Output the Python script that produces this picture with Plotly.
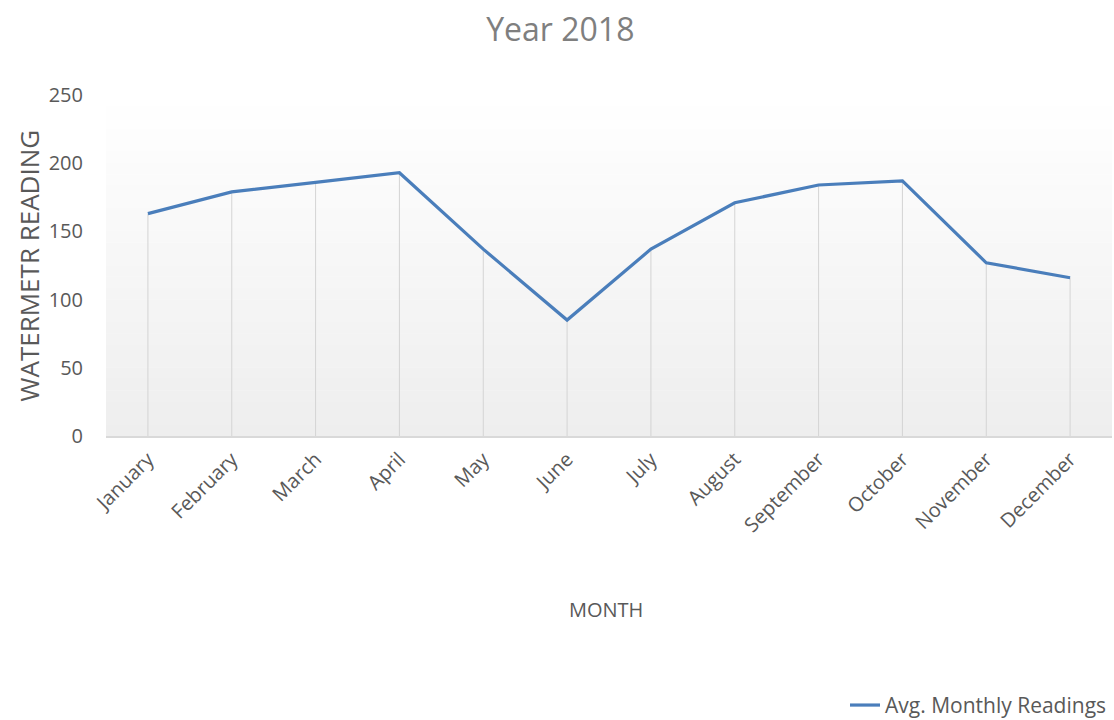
import plotly.graph_objects as go

months = ["January", "February", "March", "April", "May", "June", "July",
          "August", "September", "October", "November", "December"]
readings = [163, 179, 186, 193, 137, 85, 137, 171, 184, 187, 127, 116]
y_ticks = [0, 50, 100, 150, 200, 250]

series_name = "Avg. Monthly Readings"
title_text = "Year 2018"
x_title = "MONTH"
y_title = "WATERMETR READING"

FONT = "Open Sans"
GRAY = "#595959"

fig = go.Figure()

# background gradient (white at top to light gray at bottom) in plot domain
n_bands = 30
for i in range(n_bands):
    t = i / (n_bands - 1)
    v = int(round(255 - (255 - 238) * t))
    fig.add_shape(type="rect", xref="x domain", yref="y domain",
                  x0=0, x1=1, y0=1 - (i + 1) / n_bands, y1=1 - i / n_bands + 0.001,
                  fillcolor=f"rgb({v},{v},{v})", line_width=0, layer="below")

fig.add_trace(go.Scatter(
    x=months, y=readings, mode="lines", name=series_name,
    line=dict(color="#4A7EBB", width=3.2),
    error_y=dict(type="data", symmetric=False, array=[0] * len(readings),
                 arrayminus=readings, color="#D4D4D4", thickness=1, width=0),
    showlegend=True,
))

fig.update_layout(
    width=1114, height=720,
    margin=dict(l=106, r=2, t=95, b=284, autoexpand=False),
    paper_bgcolor="white", plot_bgcolor="rgba(0,0,0,0)",
    title=dict(text=title_text, x=0.503, xanchor="center", y=1 - 30 / 720,
               yanchor="middle", yref="container",
               font=dict(family=FONT, size=32, color="#7F7F7F")),
    showlegend=True,
    legend=dict(x=1.0, xanchor="right", y=-0.79, yanchor="middle",
                font=dict(family=FONT, size=21, color=GRAY),
                bgcolor="rgba(0,0,0,0)"),
    xaxis=dict(range=[-0.5, len(months) - 0.5], showgrid=False, showline=True,
               linecolor="#D9D9D9", linewidth=1.5,
               tickangle=-45, tickfont=dict(family=FONT, size=20, color=GRAY),
               ticks="", ticklabelstandoff=2, zeroline=False, automargin=False),
    yaxis=dict(range=[0, 250], tickvals=y_ticks, showgrid=False, showline=False,
               zeroline=False, ticks="", ticklabelstandoff=22, automargin=False,
               tickfont=dict(family=FONT, size=20, color=GRAY)),
    annotations=[
        dict(text=x_title, xref="paper", yref="paper", x=0.497, y=-0.51,
             xanchor="center", yanchor="middle",
             showarrow=False, font=dict(family=FONT, size=20, color=GRAY)),
        dict(text=y_title, xref="paper", yref="paper", x=-0.0775, y=0.5,
             xanchor="center", yanchor="middle",
             textangle=-90, showarrow=False,
             font=dict(family=FONT, size=26, color=GRAY)),
    ],
)

fig.write_html("out.html")
